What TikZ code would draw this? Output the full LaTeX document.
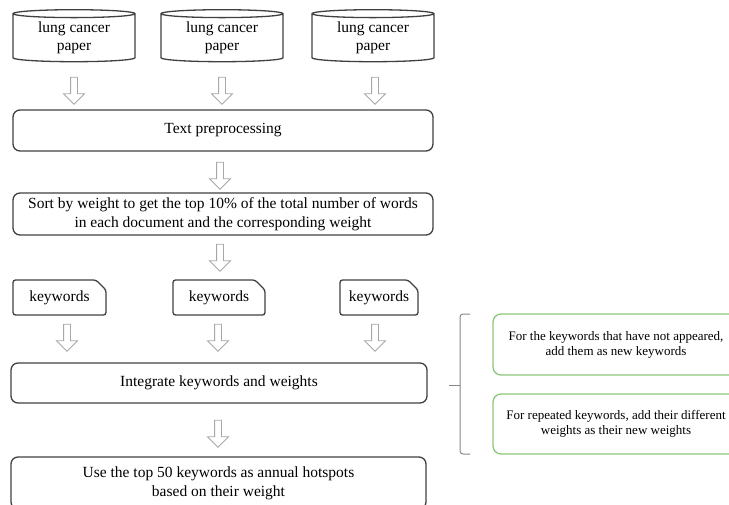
\documentclass[tikz,border=0pt]{standalone}
\usepackage{fontspec}
\setmainfont{Liberation Serif}
\usetikzlibrary{shapes.geometric,shapes.arrows,shapes.misc,positioning,calc}
\definecolor{boxgray}{HTML}{404040}
\definecolor{arrowgray}{HTML}{A8A8A8}
\definecolor{leafgreen}{HTML}{8CC878}

\begin{document}
\begin{tikzpicture}[x=1pt,y=-1pt,
                paper/.style={cylinder,shape border rotate=90,aspect=0.11,draw=boxgray,
                  line width=1.3pt,minimum width=122pt,minimum height=52pt,inner sep=0pt,
                  align=center,font=\fontsize{15.5}{18.5}\selectfont},
                stepbox/.style={rectangle,rounded corners=7pt,draw=boxgray,line width=1.3pt,
                  minimum width=420pt,align=center,font=\fontsize{15.5}{19}\selectfont},
                keybox/.style={chamfered rectangle,chamfered rectangle corners=north east,
                  chamfered rectangle xsep=5pt,chamfered rectangle ysep=5pt,draw=boxgray,
                  rounded corners=2.5pt,line width=1.3pt,minimum height=35pt,inner sep=0pt,
                  font=\fontsize{15.5}{18.5}\selectfont},
                hollow/.style={single arrow,shape border rotate=270,draw=arrowgray,fill=white,
                  line width=0.9pt,minimum height=27pt,minimum width=20pt,
                  single arrow head extend=7pt,inner sep=3pt},
                notebox/.style={rectangle,rounded corners=8pt,draw=leafgreen,line width=1.3pt,
                  minimum width=246pt,align=center,font=\fontsize{13}{15}\selectfont}]
            \useasboundingbox (0,0) rectangle (729,504);

            \node [paper] (p1) at (74,38)  {lung cancer\\paper};
            \node [paper] (p2) at (222,38) {lung cancer\\paper};
            \node [paper] (p3) at (373,38) {lung cancer\\paper};

            \node [hollow] (a1) at (74,89)  {};
            \node [hollow] (a2) at (222,89) {};
            \node [hollow] (a3) at (375,89) {};

            \node [stepbox,minimum height=41pt] (prep) at (223,130.5) {Text preprocessing};
            \node [hollow] (a4) at (220,174) {};
            \node [stepbox,minimum height=42pt] (sort) at (223,214)
              {Sort by weight to get the top 10\% of the total number of words\\
               in each document and the corresponding weight};
            \node [hollow] (a5) at (220,256) {};

            \node [keybox,minimum width=93pt] (k1) at (59.5,297.5) {keywords};
            \node [keybox,minimum width=92pt] (k2) at (219,297.5)  {keywords};
            \node [keybox,minimum width=78pt] (k3) at (379,297.5)  {keywords};

            \node [hollow] (a6) at (67,336)  {};
            \node [hollow] (a7) at (218,336) {};
            \node [hollow] (a8) at (375,336) {};

            \node [stepbox,minimum width=416pt,minimum height=40pt] (merge) at (219,383)
              {Integrate keywords and weights};
            \node [hollow] (a9) at (218,432) {};
            \node [stepbox,minimum width=415pt,minimum height=52pt] (hot) at (218.5,483)
              {Use the top 50 keywords as annual hotspots\\based on their weight};

            % the two rules of merging
            \node [notebox,minimum height=61pt] (g1) at (616,344.5)
              {For the keywords that have not appeared,\\add them as new keywords};
            \node [notebox,minimum height=60pt] (g2) at (616,424)
              {For repeated keywords, add their different\\weights as their new weights};

            \draw [arrowgray!80!black,line width=1pt,rounded corners=3pt]
              (470,314) -- (460,314) -- (460,454) -- (470,454);
            \draw [arrowgray!80!black,line width=1pt] (460,385) -- (449,385);
        \end{tikzpicture}
\end{document}
